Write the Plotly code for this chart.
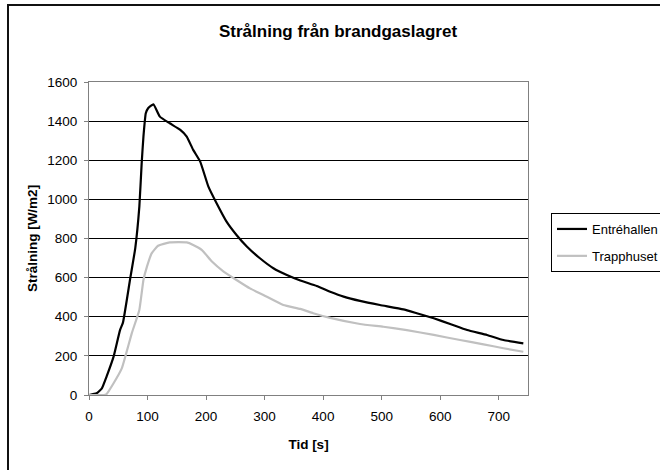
import plotly.graph_objects as go

# ---- data ----
t_entre = [0, 13, 22, 30, 42, 53, 58, 70, 79, 86, 90, 93, 97, 101, 110, 121, 138, 156, 167, 178, 190, 204,
           218, 235, 252, 270, 292, 315, 338, 361, 389, 412, 435, 463, 497, 537, 560, 589, 617, 646, 680, 708, 742]
v_entre = [0, 9, 34, 94, 196, 332, 370, 588, 750, 963, 1185, 1321, 1440, 1466, 1486, 1423, 1389, 1355, 1321,
           1253, 1193, 1065, 980, 886, 818, 758, 699, 648, 613, 585, 557, 528, 503, 481, 460, 438, 418, 392,
           363, 332, 307, 281, 264]

t_trapp = [0, 25, 30, 42, 56, 62, 73, 86, 93, 99, 107, 118, 138, 167, 178, 193, 210, 230, 252, 275, 298,
           332, 361, 383, 412, 463, 503, 543, 589, 634, 674, 708, 742]
v_trapp = [0, 0, 5, 60, 136, 196, 315, 435, 588, 656, 724, 763, 780, 780, 767, 741, 682, 631, 588, 545, 511,
           460, 440, 418, 394, 363, 349, 332, 307, 281, 259, 239, 221]

series_names = ["Entréhallen", "Trapphuset"]
series_colors = ["#000000", "#C0C0C0"]

x_ticks = [0, 100, 200, 300, 400, 500, 600, 700]
y_ticks = [0, 200, 400, 600, 800, 1000, 1200, 1400, 1600]

FONT = "Liberation Sans, Arial, sans-serif"

fig = go.Figure()
for i, (tx, vy) in enumerate([(t_entre, v_entre), (t_trapp, v_trapp)]):
    fig.add_trace(go.Scatter(
        x=tx, y=vy, mode="lines", name=series_names[i],
        line=dict(color=series_colors[i], width=2.2, shape="spline", smoothing=0.4),
        legendgroup=series_names[i],
    ))

# plot area pixel box: left 89, right 528, top 82, bottom 395
L, R, T, B = 89, 528, 82, 395
W, H = 660, 470
pw, ph = R - L, B - T

def px(p):
    return (p - L) / pw

def py(p):
    return (B - p) / ph

fig.update_layout(
    width=W, height=H,
    margin=dict(l=L, r=W - R, t=T, b=H - B, autoexpand=False),
    paper_bgcolor="white", plot_bgcolor="white",
    font=dict(family=FONT, size=13, color="#000"),
    showlegend=True,
    legend=dict(
        x=px(551), y=py(213), xanchor="left", yanchor="top",
        bordercolor="#000", borderwidth=1, bgcolor="white",
        font=dict(family=FONT, size=13, color="#000"),
        traceorder="grouped", tracegroupgap=7,
        itemwidth=30,
    ),
    annotations=[dict(
        text="<b>Strålning från brandgaslagret</b>",
        x=px(338), y=py(32), xref="paper", yref="paper",
        xanchor="center", yanchor="middle", showarrow=False,
        font=dict(family=FONT, size=17, color="#000"),
    )],
    shapes=[dict(
        type="rect", xref="paper", yref="paper",
        x0=px(8), x1=px(720), y0=py(5), y1=py(520),
        line=dict(color="#111", width=2), fillcolor="rgba(0,0,0,0)", layer="above",
    )],
)

fig.update_xaxes(
    range=[0, 750], tickvals=x_ticks, ticktext=[str(v) for v in x_ticks],
    showgrid=False, zeroline=False,
    showline=True, linecolor="#808080", linewidth=1, mirror=True,
    ticks="outside", ticklen=4, tickcolor="#808080",
    ticklabelstandoff=5,
    tickfont=dict(family=FONT, size=13.5, color="#000"),
    title=dict(text="<b>Tid [s]</b>", font=dict(family=FONT, size=13.5, color="#000"), standoff=16),
)
fig.update_yaxes(
    range=[0, 1600], tickvals=y_ticks, ticktext=[str(v) for v in y_ticks],
    showgrid=True, gridcolor="#000", gridwidth=1, zeroline=False,
    showline=True, linecolor="#808080", linewidth=1, mirror=True,
    ticks="outside", ticklen=4, tickcolor="#808080",
    ticklabelstandoff=4,
    tickfont=dict(family=FONT, size=13.5, color="#000"),
    title=dict(text="<b>Strålning [W/m2]</b>", font=dict(family=FONT, size=13.5, color="#000"), standoff=6),
)

fig.write_html("out.html")
